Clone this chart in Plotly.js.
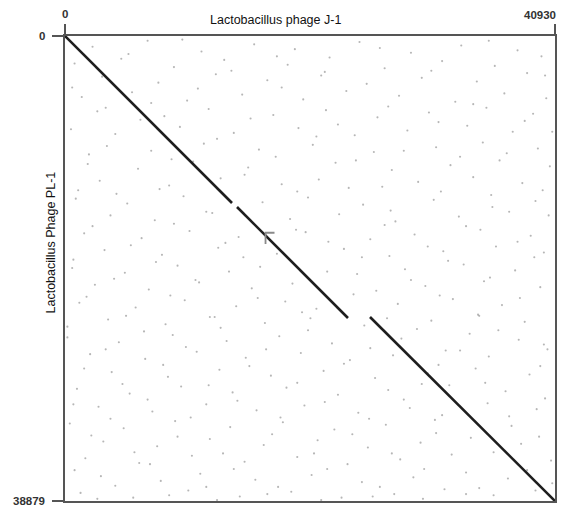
<!DOCTYPE html>
<html>
<head>
<meta charset="utf-8">
<script src="https://cdn.plot.ly/plotly-3.0.1.min.js"></script>
<style>html,body{margin:0;padding:0;background:#fff;}#chart{width:562px;height:515px;}</style>
</head>
<body>
<div id="chart"></div>
<script>
// Genome lengths (axis extents)
const xLength = 40930;   // Lactobacillus phage J-1
const yLength = 38879;   // Lactobacillus Phage PL-1
const xTitle = "Lactobacillus phage J-1";
const yTitle = "Lactobacillus Phage PL-1";

// Main collinear match segments [start, end]
const segX1 = [0, 13950];
const segY1 = [0, 13962];
const segX2 = [14367, 23639];
const segY2 = [14296, 23576];
const segX3 = [25477, 40930];
const segY3 = [23492, 38879];

// small grey "F"-shaped artefact near the middle
const fX = [17500, 16750, 16750];
const fY = [16450, 16450, 17400];

// background scattered short matches (approximate positions)
const noiseX = [
2300,6900,11400,15800,19200,24600,28900,33100,37800,
800,4700,9100,13300,18600,22100,26700,31500,35900,39800,
3100,7800,12600,16900,21400,25200,29800,34400,38600,
1400,5600,10200,14800,19900,23500,27900,32600,36700,40200,
2700,8300,12000,17400,21800,26100,30400,35200,39100,
500,4200,9600,14100,19500,24200,28600,33600,37400,
3500,7200,11600,16200,20700,25800,31000,34900,39500,
1900,6100,10700,15300,22600,27300,32200,36300,40500,
2900,8700,13000,18100,21200,26500,29500,34100,38200,
900,5200,9900,16500,20300,24900,30800,35600,39300,
3800,7500,12300,18800,22900,27600,32900,37100,
1600,6400,10400,14500,20100,25500,29200,34700,38900,
3300,8100,12800,17700,23300,27100,31600,36000,40000,
600,5000,9400,13700,16300,24400,28400,33300,37600,
2500,7000,11200,15600,19000,26000,30100,35000,39700,
1200,5900,10000,14300,18400,21000,27800,32400,36500,
3600,8400,12500,16700,20500,25000,30600,34600,38400,
200,4500,9000,13500,17900,22300,28100,33800,37900,
2100,6700,11000,15100,19700,23800,27400,31800,35400,40300,
3900,8600,12900,17200,21600,25900,30300,34300,38800,
1000,5400,9700,14000,18500,22800,27000,32100,36800,
2800,7300,11800,16000,20000,24500,28800,35300,39400,
400,4900,9200,13800,18200,22500,26800,30900,37300,
3200,7700,12100,16600,21100,25300,29700,33900,38100,
1700,6200,10600,15000,19400,23600,28000,32300,40600,
3000,8000,11300,15900,20600,24800,29100,33500,37000,
1300,5700,10300,14600,18900,23100,27500,31700,35800
];
const noiseY = [
900,400,1300,700,1100,500,1400,800,1200,
2300,1900,2600,2000,2400,1800,2700,2100,2500,1700,
3400,3900,3200,3700,3300,4000,3500,3800,3100,
5100,4700,5400,4900,5300,4600,5000,5500,4800,5200,
6300,6700,6100,6600,6200,6800,6400,6000,6500,
7800,8200,7600,8100,7700,8300,7900,7500,8000,
9200,9600,9000,9500,9100,9700,9300,8900,9400,
10700,11100,10500,11000,10600,11200,10800,10400,10900,
12100,12500,11900,12400,12000,12600,12200,11800,12300,
13600,14000,13400,13900,13500,14100,13700,13300,13800,
15000,15400,14800,15300,14900,15500,15100,14700,
16500,16900,16300,16800,16400,17000,16600,16200,16700,
17900,18300,17700,18200,17800,18400,18000,17600,18100,
19400,19800,19200,19700,19300,19900,19500,19100,19600,
20800,21200,20600,21100,20700,21300,20900,20500,21000,
22300,22700,22100,22600,22200,22800,22400,22000,22500,
23700,24100,23500,24000,23600,24200,23800,23400,23900,
25200,25600,25000,25500,25100,25700,25300,24900,25400,
26600,27000,26400,26900,26500,27100,26700,26300,26800,26200,
28100,28500,27900,28400,28000,28600,28200,27800,28300,
29500,29900,29300,29800,29400,30000,29600,29200,29700,
31000,31400,30800,31300,30900,31500,31100,30700,31200,
32400,32800,32200,32700,32300,32900,32500,32100,32600,
33900,34300,33700,34200,33800,34400,34000,33600,34100,
35300,35700,35100,35600,35200,35800,35400,35000,35500,
36800,37200,36600,37100,36700,37300,36900,36500,37000,
38200,38600,38000,38500,38100,38600,38300,37900,38400
];
const noiseX2 = [
5300,9800,13900,17700,21700,26300,30600,35400,40100,
600,3400,7200,11100,15500,18100,22800,27000,31200,34100,38400,
2000,6300,8900,12700,17600,21000,24300,28300,33000,36900,40700,
1100,4300,7900,11800,15000,19400,23700,27200,31400,35700,39900,
2300,5500,9100,13400,19300,22000,26700,30300,33500,37800,40400,
700,4100,7600,10900,14900,21900,24800,28900,32000,35500,39200,
1800,5100,8800,12100,16100,19800,24100,26900,31300,34500,38000,
200,3400,6600,10100,13000,16800,20300,25500,29400,33000,36200,40000,
1600,4800,8200,12000,15400,19400,23300,29800,31200,35100,39700,
700,3800,6900,10500,14400,18000,21700,25400,28300,31500,37100,40100,
2200,5800,9400,13200,17300,20800,24000,27300,31000,35800,39600,
800,4200,7100,11800,14100,17800,21900,26300,30000,34600,38600,
2700,8700,12700,16900,21400,25700,29900,33500,39300,40700
];
const noiseY2 = [
1500,300,2900,1700,3000,1000,2900,400,3300,
4300,6000,5600,4400,6900,4300,7400,5900,7200,5700,7100,
9900,7000,10300,8600,10100,8400,10400,9600,10100,9800,8000,
12900,13200,12800,14700,11600,13000,12700,14600,13000,14300,12900,
15900,17500,15700,17300,16200,17200,15800,17600,15900,17200,15000,
18700,20300,18900,20400,18500,19700,18500,20400,18800,20200,18500,
21800,23400,21700,23500,21900,23100,21600,23600,21700,23300,21900,
24300,26200,24700,26000,24400,26200,24600,26100,24500,26300,24600,25800,
27800,29100,27500,29200,27600,29000,27400,29100,27500,29000,27600,
30800,32000,30400,31900,30500,31900,30600,32000,30400,31700,31800,30300,
33400,34800,33500,34900,33300,34900,33300,34900,33200,34800,33500,
36300,37600,35800,37700,36200,37700,36200,37700,36200,37800,36300,
38700,38400,38800,38300,38800,38500,38700,38300,38000,37400
];

const lineStyle = {color: "#1e1e1e", width: 2.6};
const dotMarker = {size: 2.1, color: "rgba(110,110,110,0.5)", line: {width: 0}};
const traces = [
  {x: noiseX, y: noiseY, mode: "markers", type: "scatter", hoverinfo: "skip", marker: dotMarker},
  {x: noiseX2, y: noiseY2, mode: "markers", type: "scatter", hoverinfo: "skip", marker: dotMarker},
  {x: segX1, y: segY1, mode: "lines", type: "scatter", line: lineStyle},
  {x: segX2, y: segY2, mode: "lines", type: "scatter", line: lineStyle},
  {x: segX3, y: segY3, mode: "lines", type: "scatter", line: lineStyle},
  {x: fX, y: fY, mode: "lines", type: "scatter", line: {color: "#8a8a8a", width: 1.8}}
];

const tickFont = {family: "Liberation Sans, Arial, sans-serif", size: 11.5, color: "#333", weight: "bold"};
const titleFont = {family: "Liberation Sans, Arial, sans-serif", size: 12.5, color: "#111"};

const layout = {
  width: 562, height: 515,
  margin: {l: 65, r: 7, t: 36, b: 14, pad: 0},
  paper_bgcolor: "#fff", plot_bgcolor: "#fff",
  showlegend: false,
  xaxis: {
    side: "top", range: [0, xLength], showgrid: false, zeroline: false,
    showline: true, linecolor: "#555", linewidth: 1.8, mirror: true,
    tickvals: [0, xLength], ticks: "outside", ticklen: 10, tickwidth: 1.8, tickcolor: "#555",
    showticklabels: false, fixedrange: true
  },
  yaxis: {
    range: [yLength, 0], showgrid: false, zeroline: false,
    showline: true, linecolor: "#555", linewidth: 1.8, mirror: true,
    tickvals: [0, yLength], ticks: "outside", ticklen: 11, tickwidth: 1.8, tickcolor: "#555",
    showticklabels: false, fixedrange: true
  },
  annotations: [
    {text: String(0), xref: "paper", yref: "paper", x: 0, y: 1, xanchor: "center", yanchor: "bottom", yshift: 14, showarrow: false, font: tickFont},
    {text: String(xLength), xref: "paper", yref: "paper", x: 1, y: 1, xanchor: "right", yanchor: "bottom", xshift: 3, yshift: 13, showarrow: false, font: tickFont},
    {text: String(0), xref: "paper", yref: "paper", x: 0, y: 1, xanchor: "right", yanchor: "middle", xshift: -18, showarrow: false, font: tickFont},
    {text: String(yLength), xref: "paper", yref: "paper", x: 0, y: 0, xanchor: "right", yanchor: "middle", xshift: -18, showarrow: false, font: tickFont},
    {text: xTitle, xref: "paper", yref: "paper", x: 0.4286, y: 1, xanchor: "center", yanchor: "bottom", yshift: 7, showarrow: false, font: titleFont},
    {text: yTitle, xref: "paper", yref: "paper", x: 0, y: 0.5, xanchor: "center", yanchor: "middle", xshift: -15, yshift: 26, textangle: -90, showarrow: false, font: titleFont}
  ]
};

Plotly.newPlot("chart", traces, layout, {displayModeBar: false, staticPlot: true});
</script>
</body>
</html>
